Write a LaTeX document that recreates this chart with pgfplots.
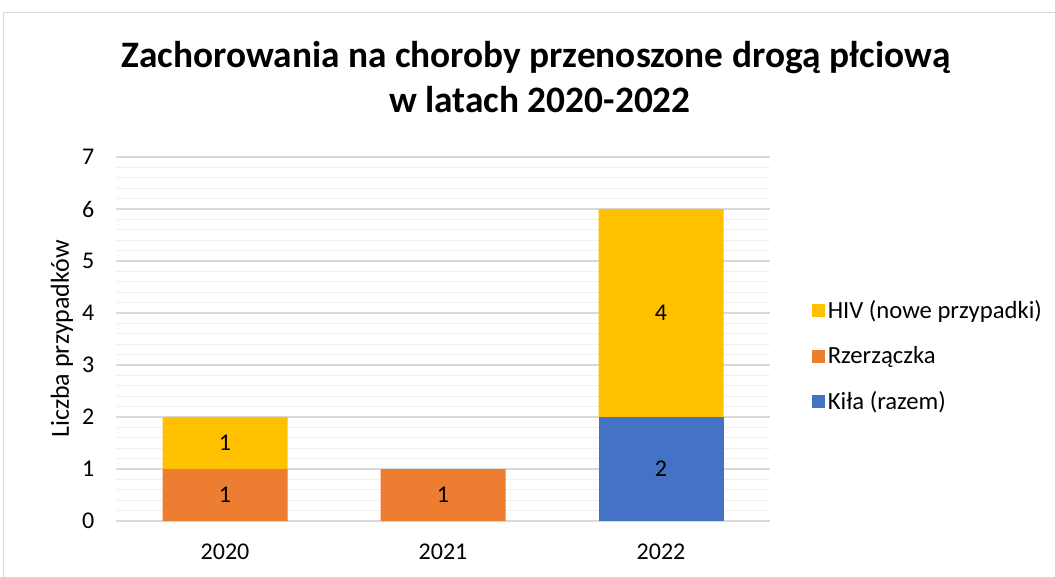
\documentclass[border=0pt]{standalone}
\usepackage{fontspec}
\setmainfont{Carlito}
\usepackage{pgfplots}
\pgfplotsset{compat=1.18}
\definecolor{hivc}{HTML}{FFC000}
\definecolor{rzc}{HTML}{ED7D31}
\definecolor{kilc}{HTML}{4472C4}
\definecolor{majgrid}{HTML}{D9D9D9}
\definecolor{mingrid}{HTML}{EFEFEF}
\newcommand{\lblfont}{\fontsize{18}{21}\selectfont}
\newcommand{\legfont}{\fontsize{18.5}{22}\selectfont}

\begin{document}
\begin{tikzpicture}
\useasboundingbox (0,0) rectangle (791.25pt,432pt);
% outer frame of the chart area
\draw[majgrid, line width=1pt] (2.8pt,-10pt) -- (2.8pt,422.6pt) -- (800pt,422.6pt);

% title
\node[anchor=base, font=\fontsize{28}{32}\bfseries] at (402pt,381pt) {Zachorowania na choroby przenoszone drogą płciową};
\node[anchor=base, font=\fontsize{28}{32}\bfseries] at (405pt,348pt) {w latach 2020-2022};

\begin{axis}[
    at={(87pt,41.25pt)}, anchor=south west,
    scale only axis, width=490.5pt, height=273pt,
    ybar stacked, bar width=93.75pt,
    xmin=-0.5, xmax=2.5, ymin=0, ymax=7,
    xtick={0,1,2}, xticklabels={2020,2021,2022},
    ytick={0,...,7}, minor y tick num=4,
    axis line style={draw=none},
    major tick length=0pt, minor tick length=0pt,
    ymajorgrids, yminorgrids,
    major grid style={majgrid, line width=1pt},
    minor grid style={mingrid, line width=0.9pt},
    /pgf/number format/assume math mode=true,
    tick label style={font=\lblfont, inner sep=0pt},
    yticklabel shift=16pt,
    xticklabel shift=17pt,
    ylabel={Liczba przypadków},
    every axis y label/.style={at={(axis description cs:-0.0826,0.5)}, rotate=90, anchor=center,
        font=\fontsize{19.5}{23}\selectfont},
    reverse legend,
    legend cell align=left,
    legend style={at={(1.064,0.453)}, anchor=west, draw=none, fill=none,
        font=\legfont, inner sep=0pt, row sep=15pt,
        nodes={inner sep=2pt, text depth=0.2em}},
    legend image code/.code={\fill[#1] (0pt,-4.9pt) rectangle (9.75pt,4.9pt);},
]
\addplot+[fill=kilc, draw=none] coordinates {(0,0) (1,0) (2,2)};
\addlegendentry{Kiła (razem)}
\addplot+[fill=rzc, draw=none] coordinates {(0,1) (1,1) (2,0)};
\addlegendentry{Rzerzączka}
\addplot+[fill=hivc, draw=none] coordinates {(0,1) (1,0) (2,4)};
\addlegendentry{HIV (nowe przypadki)}
\end{axis}

% value labels centred in the segments
\begin{axis}[
    at={(87pt,41.25pt)}, anchor=south west,
    scale only axis, width=490.5pt, height=273pt,
    xmin=-0.5, xmax=2.5, ymin=0, ymax=7,
    hide axis,
]
\addplot[only marks, mark=none, point meta=explicit symbolic,
    nodes near coords, nodes near coords style={anchor=center, font=\lblfont, inner sep=0pt}]
    coordinates {(0,0.5)[1] (0,1.5)[1] (1,0.5)[1] (2,1)[2] (2,4)[4]};
\end{axis}
\end{tikzpicture}
\end{document}
